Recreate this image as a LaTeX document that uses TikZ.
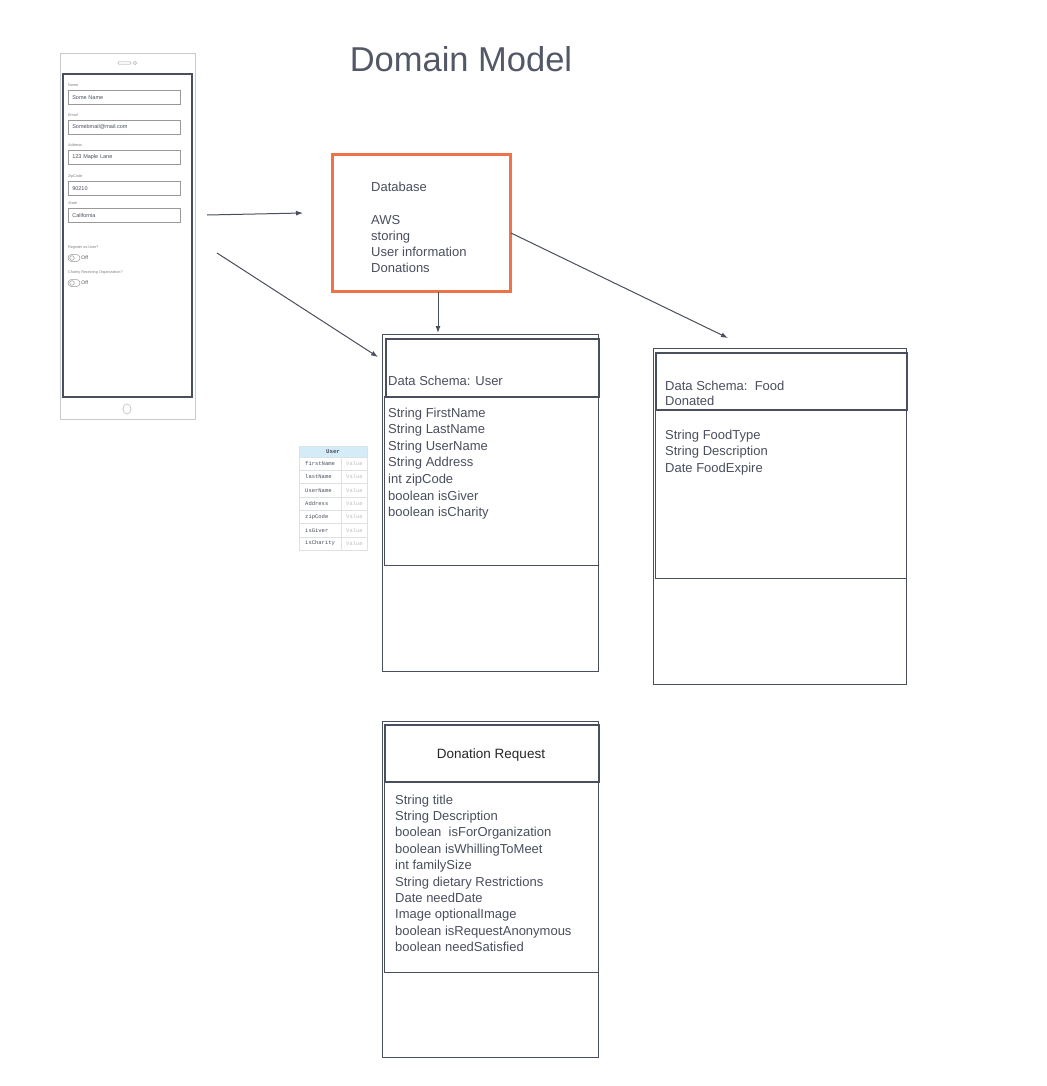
\documentclass[tikz,border=0pt]{standalone}
\usepackage{fontspec}
\setmainfont{Liberation Sans}
\setmonofont{Liberation Mono}
\usetikzlibrary{arrows.meta}

\definecolor{ink}{HTML}{4A4F5E}
\definecolor{titleink}{HTML}{535866}
\definecolor{dborange}{HTML}{EE7349}
\definecolor{phonegray}{HTML}{C9CACF}
\definecolor{tableblue}{HTML}{D3ECF7}
\definecolor{tableline}{HTML}{DCE1E6}

\tikzset{
  body/.style={anchor=base west, inner sep=0pt, text=ink, font=\fontsize{13}{16}\selectfont},
  frame/.style={draw=ink, line width=0.8pt, anchor=north west, inner sep=0pt},
  header/.style={draw=ink, line width=1.6pt, anchor=north west, inner sep=0pt},
  dbbox/.style={draw=dborange, line width=2.6pt, anchor=north west, inner sep=0pt},
  link/.style={draw=ink, line width=1pt},
  phoneline/.style={draw=phonegray, line width=0.8pt},
  formlabel/.style={anchor=base west, inner sep=0pt, text=gray, font=\fontsize{3.8}{4}\selectfont},
  formfield/.style={draw=gray!80, line width=0.6pt, anchor=north west, inner xsep=4pt, inner ysep=0pt,
    text width=104pt, minimum height=14pt, text=ink, font=\fontsize{5.5}{6}\selectfont},
  toggle/.style={draw=gray!80, line width=0.5pt, rounded corners=3.5pt, minimum width=12pt,
    minimum height=7pt, inner sep=0pt},
  tablekey/.style={anchor=west, inner sep=0pt, text=ink, font=\ttfamily\fontsize{5.5}{6}\selectfont},
  tableval/.style={anchor=west, inner sep=0pt, text=gray!50, font=\ttfamily\fontsize{5.5}{6}\selectfont},
  tablegrid/.style={draw=tableline, line width=0.5pt}
}

\begin{document}
\begin{tikzpicture}[x=1pt,y=-1pt,>={Latex[length=7pt,width=5pt]}]
\useasboundingbox[fill=white] (0,0) rectangle (1046,1086);

\node[text=titleink, font=\fontsize{34.5}{38}\selectfont, inner sep=0pt] (title) at (461,59) {Domain Model};

% phone form
\node[phoneline, minimum width=135pt, minimum height=366pt, inner sep=0pt] (phone) at (127.5,236) {};
\node[draw=ink, line width=1.2pt, minimum width=129pt, minimum height=323pt, inner sep=0pt] (screen) at (127.5,235.5) {};
\draw[phoneline, rounded corners=1pt] (118,61.8) rectangle (131,64.2);
\draw[phoneline] (135,63) circle[radius=1.8pt];
\draw[phoneline] (127,409) ellipse[x radius=4pt, y radius=5pt];

\foreach \lab/\val/\y [count=\i] in {Name/Some Name/90, Email/Somebmail@mail.com/120,
    Address/123 Maple Lane/150, ZipCode/90210/181, State/California/208} {
  \node[formlabel] (lab\i) at (68,\y-3.5) {\lab};
  \node[formfield] (field\i) at (68,\y) {\val};
}

\foreach \lab/\y [count=\i] in {Register as User?/248, Charity Receiving Organization?/273} {
  \node[formlabel, anchor=west] (tlab\i) at (68,\y) {\lab};
  \node[toggle] (tog\i) at (74,\y+10) {};
  \draw[draw=gray!80, line width=0.5pt] (72,\y+10) circle[radius=2.3pt];
  \node[anchor=west, inner sep=1pt, text=ink, font=\fontsize{5}{6}\selectfont] (off\i) at (tog\i.east) {Off};
}

% database
\node[dbbox, minimum width=178pt, minimum height=137pt] (db) at (331,153) {};
\node[body] (dbtitle) at (371,191) {Database};
\foreach \t [count=\i from 0] in {AWS, storing, User information, Donations}
  \node[body] (db\i) at (371,224+16.3*\i) {\t};

% user schema
\node[frame, minimum width=216pt, minimum height=337pt] (userbox) at (382,334) {};
\node[header, minimum width=213pt, minimum height=58pt] (userhead) at (385,338) {};
\node[frame, line width=1pt, minimum width=214pt, minimum height=169pt] (userbody) at (384,396) {};
\node[body] (usertitle) at (388,385) {Data Schema: User};
\foreach \t [count=\i from 0] in {String FirstName, String LastName, String UserName, String Address,
    int zipCode, boolean isGiver, boolean isCharity}
  \node[body] (user\i) at (388,417.3+16.55*\i) {\t};

% food schema
\node[frame, minimum width=253pt, minimum height=336pt] (foodbox) at (653,348) {};
\node[header, minimum width=251pt, minimum height=57pt] (foodhead) at (655,352) {};
\node[frame, line width=1pt, minimum width=251pt, minimum height=169pt] (foodbody) at (655,409) {};
\node[body] (foodtitle) at (665,390) {Data Schema:\ \ Food};
\node[body] (foodtitle2) at (665,405.7) {Donated};
\foreach \t [count=\i from 0] in {String FoodType, String Description, Date FoodExpire}
  \node[body] (food\i) at (665,439+16.6*\i) {\t};

% donation request
\node[frame, minimum width=216pt, minimum height=336pt] (reqbox) at (382,721) {};
\node[header, minimum width=214pt, minimum height=57pt] (reqhead) at (384,724) {};
\node[frame, line width=1pt, minimum width=214pt, minimum height=191pt] (reqbody) at (384,781) {};
\node[text=black!85, font=\fontsize{13.5}{16}\selectfont, anchor=base, inner sep=0pt] (reqtitle) at (491,758.3) {Donation Request};
\foreach \t [count=\i from 0] in {String title, String Description, boolean\ \ isForOrganization,
    boolean isWhillingToMeet, int familySize, String dietary Restrictions, Date needDate,
    Image optionalImage, boolean isRequestAnonymous, boolean needSatisfied}
  \node[body] (req\i) at (395,804+16.4*\i) {\t};

% user table
\fill[tableblue] (299,446.5) rectangle (367.5,457);
\node[font=\ttfamily\bfseries\fontsize{5.8}{6}\selectfont, text=ink, inner sep=0pt] (tabletitle) at (333,452) {User};
\foreach \f [count=\i from 0] in {firstName, lastName, UserName, Address, zipCode, isGiver, isCharity} {
  \node[tablekey] (key\i) at (305,463.65+13.3*\i) {\f};
  \node[tableval] (val\i) at (346,463.65+13.3*\i) {Value};
  \draw[tablegrid] (299,457+13.3*\i) -- (367.5,457+13.3*\i);
}
\draw[tablegrid] (299,446.5) rectangle (367.5,550);
\draw[tablegrid] (341,457) -- (341,550);

% connectors
\coordinate (a1s) at (207,215);
\coordinate (a1e) at (303,213);
\coordinate (a2s) at (217,253);
\coordinate (a2e) at (378,357);
\coordinate (a3s) at (511,233);
\coordinate (a3e) at (728,338);
\coordinate (a4s) at (438,292);
\coordinate (a4e) at (438,333);
\draw[link,->] (a1s) -- (a1e);
\draw[link,->] (a2s) -- (a2e);
\draw[link,->] (a3s) -- (a3e);
\draw[link,->] (a4s) -- (a4e);
\end{tikzpicture}
\end{document}
